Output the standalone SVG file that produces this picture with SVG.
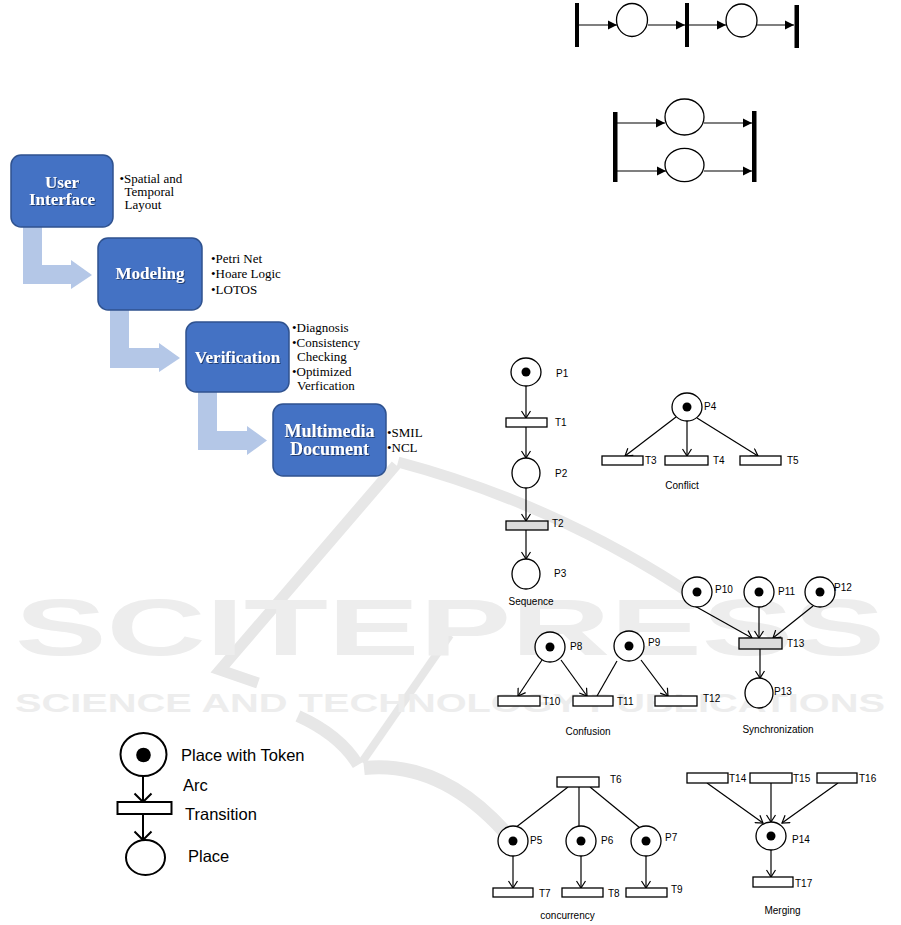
<svg xmlns="http://www.w3.org/2000/svg" width="901" height="925" viewBox="0 0 901 925">
<defs>
<style>
.wm{fill:#ededed;font-family:"Liberation Sans",Arial,sans-serif;font-weight:bold}
.band{fill:none;stroke:#e7e7e7;stroke-linejoin:miter}
.box{fill:#4472C4;stroke:#2F528F;stroke-width:1.5}
.bl{fill:#fff;font-family:"Liberation Serif","Times New Roman",serif;font-weight:bold;text-anchor:middle;filter:url(#sh)}
.bul{font-family:"Liberation Serif","Times New Roman",serif;font-size:13px;fill:#000}
.flow{fill:#B4C7E7}
.pl{fill:#fff;stroke:#000;stroke-width:1.3}
.tok{fill:#000}
.tr{fill:#fff;stroke:#000;stroke-width:1.3}
.trg{fill:#dcdcdc;stroke:#000;stroke-width:1.3}
.arc{stroke:#000;stroke-width:1.2;fill:none}
.lab{font-family:"Liberation Sans",Arial,sans-serif;font-size:10px;fill:#000}
.cap{font-family:"Liberation Sans",Arial,sans-serif;font-size:10px;fill:#000;text-anchor:middle}
.leg{font-family:"Liberation Sans",Arial,sans-serif;font-size:16.5px;fill:#000}
.bar{fill:#000}
.lpl{fill:#fff;stroke:#000;stroke-width:2}
.larc{stroke:#000;stroke-width:2;fill:none}
</style>
<filter id="sh" x="-10%" y="-20%" width="130%" height="150%"><feDropShadow dx="1" dy="1" stdDeviation="0.6" flood-color="#1a2f5a" flood-opacity="0.8"/></filter>
<marker id="va" viewBox="-8 -5 9 10" refX="0" refY="0" markerWidth="9" markerHeight="10" markerUnits="userSpaceOnUse" orient="auto"><path d="M-7,-4.5 L0,0 L-7,4.5" fill="none" stroke="#000" stroke-width="1.2"/></marker>
<marker id="vl" viewBox="-10 -10 11 20" refX="0" refY="0" markerWidth="11" markerHeight="20" markerUnits="userSpaceOnUse" orient="auto"><path d="M-8.5,-8.5 L0,0 L-8.5,8.5" fill="none" stroke="#000" stroke-width="2"/></marker>
<marker id="fa" viewBox="-10 -5 10 10" refX="0" refY="0" markerWidth="10" markerHeight="10" markerUnits="userSpaceOnUse" orient="auto"><path d="M-9,-4.5 L0,0 L-9,4.5 Z" fill="#000"/></marker>
</defs>
<rect x="0" y="0" width="901" height="925" fill="#fff"/>

<g id="watermark">
<path class="band" stroke-width="11" d="M398,462 Q560,505 700,600"/>
<path class="band" stroke-width="11" d="M396,465 L220,670 L258,683"/>
<path class="band" stroke-width="12" d="M298,716 Q340,735 358,765"/>
<path class="band" stroke-width="8" d="M362,762 L450,635"/>
<path class="band" stroke-width="14" d="M364,768 Q440,760 505,832"/>
<text class="wm" x="15" y="655" font-size="80" textLength="870" lengthAdjust="spacingAndGlyphs">SCITEPRESS</text>
<text class="wm" x="15" y="712" font-size="26.5" textLength="870" lengthAdjust="spacingAndGlyphs">SCIENCE AND TECHNOLOGY PUBLICATIONS</text>
</g>

<g id="connectors">
<polygon class="flow" points="23,227 42,227 42,265 71,265 71,260 92,275 71,289 71,284 23,284"/>
<polygon class="flow" points="110,310 129,310 129,348 159,348 159,343 180,358 159,372 159,368 110,368"/>
<polygon class="flow" points="198,392 217,392 217,431 247,431 247,426 267,440.5 247,455 247,450 198,450"/>

<line class="arc" x1="579" y1="25" x2="617" y2="25" marker-end="url(#fa)"/>
<line class="arc" x1="648" y1="25" x2="685" y2="25" marker-end="url(#fa)"/>
<line class="arc" x1="689" y1="25" x2="726" y2="25" marker-end="url(#fa)"/>
<line class="arc" x1="757" y1="25" x2="794" y2="25" marker-end="url(#fa)"/>
<line class="arc" x1="617" y1="123" x2="665" y2="123" marker-end="url(#fa)"/>
<line class="arc" x1="704" y1="123" x2="752" y2="123" marker-end="url(#fa)"/>
<line class="arc" x1="617" y1="171" x2="666" y2="171" marker-end="url(#fa)"/>
<line class="arc" x1="704" y1="171" x2="752" y2="171" marker-end="url(#fa)"/>

<line class="arc" x1="526" y1="386" x2="526" y2="418" marker-end="url(#va)"/>
<line class="arc" x1="526" y1="427" x2="526" y2="458" marker-end="url(#va)"/>
<line class="arc" x1="526" y1="488" x2="526" y2="521" marker-end="url(#va)"/>
<line class="arc" x1="526" y1="530" x2="526" y2="559" marker-end="url(#va)"/>

<line class="arc" x1="676" y1="417" x2="625" y2="456" marker-end="url(#va)"/>
<line class="arc" x1="687" y1="421" x2="687" y2="456" marker-end="url(#va)"/>
<line class="arc" x1="697" y1="418" x2="758" y2="456" marker-end="url(#va)"/>

<line class="arc" x1="693" y1="605" x2="752" y2="638" marker-end="url(#va)"/>
<line class="arc" x1="759" y1="607" x2="759" y2="638" marker-end="url(#va)"/>
<line class="arc" x1="813" y1="606" x2="773" y2="638" marker-end="url(#va)"/>
<line class="arc" x1="760" y1="649" x2="760" y2="678" marker-end="url(#va)"/>

<line class="arc" x1="542" y1="660" x2="518" y2="696" marker-end="url(#va)"/>
<line class="arc" x1="561" y1="660" x2="587" y2="696" marker-end="url(#va)"/>
<line class="arc" x1="617" y1="661" x2="597" y2="696"/>
<line class="arc" x1="641" y1="660" x2="668" y2="696" marker-end="url(#va)"/>

<line class="arc" x1="568" y1="787" x2="515" y2="828"/>
<line class="arc" x1="579" y1="787" x2="579" y2="826"/>
<line class="arc" x1="590" y1="787" x2="640" y2="828"/>
<line class="arc" x1="513" y1="856" x2="513" y2="888" marker-end="url(#va)"/>
<line class="arc" x1="581" y1="856" x2="581" y2="888" marker-end="url(#va)"/>
<line class="arc" x1="646" y1="856" x2="646" y2="888" marker-end="url(#va)"/>

<line class="arc" x1="707" y1="783" x2="763" y2="823" marker-end="url(#va)"/>
<line class="arc" x1="771" y1="783" x2="771" y2="822" marker-end="url(#va)"/>
<line class="arc" x1="838" y1="783" x2="782" y2="823" marker-end="url(#va)"/>
<line class="arc" x1="771" y1="849" x2="771" y2="877" marker-end="url(#va)"/>

<line class="larc" x1="143" y1="776" x2="143" y2="802" marker-end="url(#vl)"/>
<line class="larc" x1="143" y1="814" x2="143" y2="840" marker-end="url(#vl)"/>
</g>

<g id="ui">
<rect class="box" x="11" y="155" width="102" height="72" rx="10"/>
<text class="bl" font-size="17" x="62" y="188">User</text>
<text class="bl" font-size="17" x="62" y="205">Interface</text>
<text class="bul" x="119.5" y="182.5">•Spatial and</text>
<text class="bul" x="124.5" y="195.5">Temporal</text>
<text class="bul" x="124.5" y="208.5">Layout</text>
</g>
<g id="modeling">
<rect class="box" x="98" y="238" width="104" height="72" rx="10"/>
<text class="bl" font-size="17" x="150" y="279">Modeling</text>
<text class="bul" x="211" y="262.5">•Petri Net</text>
<text class="bul" x="211" y="278">•Hoare Logic</text>
<text class="bul" x="211" y="293.5">•LOTOS</text>
</g>
<g id="verification">
<rect class="box" x="186" y="322" width="103" height="70" rx="10"/>
<text class="bl" font-size="17" x="237.5" y="362.5">Verification</text>
<text class="bul" x="292" y="332">•Diagnosis</text>
<text class="bul" x="292" y="347">•Consistency</text>
<text class="bul" x="297" y="361">Checking</text>
<text class="bul" x="292" y="376">•Optimized</text>
<text class="bul" x="297" y="389.5">Verfication</text>
</g>
<g id="multimedia">
<rect class="box" x="273" y="404" width="113" height="72" rx="10"/>
<text class="bl" font-size="18" x="329.5" y="437">Multimedia</text>
<text class="bl" font-size="18" x="329.5" y="455">Document</text>
<text class="bul" x="387" y="437">•SMIL</text>
<text class="bul" x="387" y="452">•NCL</text>
</g>

<g id="chain-top">
<rect class="bar" x="575" y="3" width="4" height="44"/>
<ellipse class="pl" cx="632" cy="20" rx="15.5" ry="16.5" stroke-width="1.1"/>
<rect class="bar" x="685" y="3" width="4" height="44"/>
<ellipse class="pl" cx="741.5" cy="20.5" rx="15.5" ry="16.5" stroke-width="1.1"/>
<rect class="bar" x="794.5" y="5" width="4.5" height="43"/>
</g>
<g id="parallel-top">
<rect class="bar" x="613" y="112" width="4.5" height="70"/>
<ellipse class="pl" cx="684.5" cy="117" rx="19.5" ry="18" stroke-width="1.1"/>
<ellipse class="pl" cx="684.5" cy="165" rx="19.5" ry="16.7" stroke-width="1.1"/>
<rect class="bar" x="752" y="111" width="4.5" height="71"/>
</g>

<g id="P1"><ellipse class="pl" cx="526" cy="372" rx="15" ry="14"/><circle class="tok" cx="526" cy="372" r="4.5"/><text class="lab" x="556" y="377">P1</text></g>
<g id="T1"><rect class="tr" x="506" y="418" width="41" height="9"/><text class="lab" x="555" y="426">T1</text></g>
<g id="P2"><ellipse class="pl" cx="526" cy="473" rx="14" ry="15"/><text class="lab" x="555" y="477">P2</text></g>
<g id="T2"><rect class="trg" x="506" y="521" width="42" height="9"/><text class="lab" x="552" y="527">T2</text></g>
<g id="P3"><ellipse class="pl" cx="526" cy="574" rx="14" ry="15"/><text class="lab" x="554" y="577">P3</text></g>
<text class="cap" x="531" y="605">Sequence</text>

<g id="P4"><ellipse class="pl" cx="687" cy="407" rx="15" ry="14"/><circle class="tok" cx="687" cy="407" r="4.5"/><text class="lab" x="704" y="410">P4</text></g>
<g id="T3"><rect class="tr" x="602" y="456" width="41" height="9"/><text class="lab" x="645" y="464">T3</text></g>
<g id="T4"><rect class="tr" x="665" y="456" width="43" height="9"/><text class="lab" x="713" y="464">T4</text></g>
<g id="T5"><rect class="tr" x="740" y="456" width="41" height="9"/><text class="lab" x="787" y="464">T5</text></g>
<text class="cap" x="682" y="489">Conflict</text>

<g id="P10"><ellipse class="pl" cx="697" cy="592" rx="15" ry="15"/><circle class="tok" cx="697" cy="592" r="4.5"/><text class="lab" x="715" y="592.5">P10</text></g>
<g id="P11"><ellipse class="pl" cx="759" cy="592" rx="15" ry="15"/><circle class="tok" cx="759" cy="592" r="4.5"/><text class="lab" x="778" y="595">P11</text></g>
<g id="P12"><ellipse class="pl" cx="820" cy="592" rx="15" ry="15"/><circle class="tok" cx="820" cy="592" r="4.5"/><text class="lab" x="834" y="590.5">P12</text></g>
<g id="T13"><rect class="trg" x="739" y="638" width="43" height="11"/><text class="lab" x="787" y="647">T13</text></g>
<g id="P13"><ellipse class="pl" cx="759" cy="693" rx="14" ry="15"/><text class="lab" x="774" y="695">P13</text></g>
<text class="cap" x="778" y="733">Synchronization</text>

<g id="P8"><ellipse class="pl" cx="550" cy="647" rx="15" ry="15"/><circle class="tok" cx="550" cy="647" r="4.5"/><text class="lab" x="570" y="650">P8</text></g>
<g id="P9"><ellipse class="pl" cx="629" cy="646" rx="15" ry="15"/><circle class="tok" cx="629" cy="646" r="4.5"/><text class="lab" x="648" y="646">P9</text></g>
<g id="T10"><rect class="tr" x="498" y="696" width="42" height="10"/><text class="lab" x="543" y="705">T10</text></g>
<g id="T11"><rect class="tr" x="573" y="696" width="40" height="10"/><text class="lab" x="617" y="705">T11</text></g>
<g id="T12"><rect class="tr" x="655" y="696" width="42" height="10"/><text class="lab" x="703" y="702">T12</text></g>
<text class="cap" x="588" y="735">Confusion</text>

<g id="T6"><rect class="tr" x="557" y="777" width="42" height="10"/><text class="lab" x="610" y="783">T6</text></g>
<g id="P5"><ellipse class="pl" cx="513" cy="841" rx="15" ry="15"/><circle class="tok" cx="513" cy="841" r="4.5"/><text class="lab" x="530" y="844">P5</text></g>
<g id="P6"><ellipse class="pl" cx="581" cy="841" rx="15" ry="15"/><circle class="tok" cx="581" cy="841" r="4.5"/><text class="lab" x="601" y="844">P6</text></g>
<g id="P7"><ellipse class="pl" cx="646" cy="841" rx="15" ry="15"/><circle class="tok" cx="646" cy="841" r="4.5"/><text class="lab" x="665" y="841">P7</text></g>
<g id="T7"><rect class="tr" x="493" y="888" width="40" height="9"/><text class="lab" x="539" y="896.5">T7</text></g>
<g id="T8"><rect class="tr" x="562" y="888" width="41" height="9"/><text class="lab" x="608" y="896.5">T8</text></g>
<g id="T9"><rect class="tr" x="626" y="888" width="41" height="9"/><text class="lab" x="671" y="893">T9</text></g>
<text class="cap" x="567.5" y="919">concurrency</text>

<g id="T14"><rect class="tr" x="687" y="773" width="41" height="10"/><text class="lab" x="729" y="781.5">T14</text></g>
<g id="T15"><rect class="tr" x="750" y="773" width="42" height="10"/><text class="lab" x="793" y="781.5">T15</text></g>
<g id="T16"><rect class="tr" x="817" y="773" width="40" height="10"/><text class="lab" x="859" y="781.5">T16</text></g>
<g id="P14"><ellipse class="pl" cx="771" cy="836" rx="15" ry="14"/><circle class="tok" cx="771" cy="836" r="4.5"/><text class="lab" x="792" y="843">P14</text></g>
<g id="T17"><rect class="tr" x="753" y="877" width="40" height="10"/><text class="lab" x="795" y="886.5">T17</text></g>
<text class="cap" x="782.5" y="914">Merging</text>

<g id="legend-place-token"><ellipse class="lpl" cx="143.5" cy="754.5" rx="23" ry="21.5"/><circle class="tok" cx="143.5" cy="755" r="7.3"/><text class="leg" x="181" y="760.5">Place with Token</text></g>
<text class="leg" x="183" y="790.5">Arc</text>
<g id="legend-transition"><rect class="lpl" x="117.5" y="802" width="54" height="12"/><text class="leg" x="185" y="820">Transition</text></g>
<g id="legend-place"><ellipse class="lpl" cx="145.5" cy="857.5" rx="19.5" ry="17.5"/><text class="leg" x="188" y="862">Place</text></g>
</svg>
